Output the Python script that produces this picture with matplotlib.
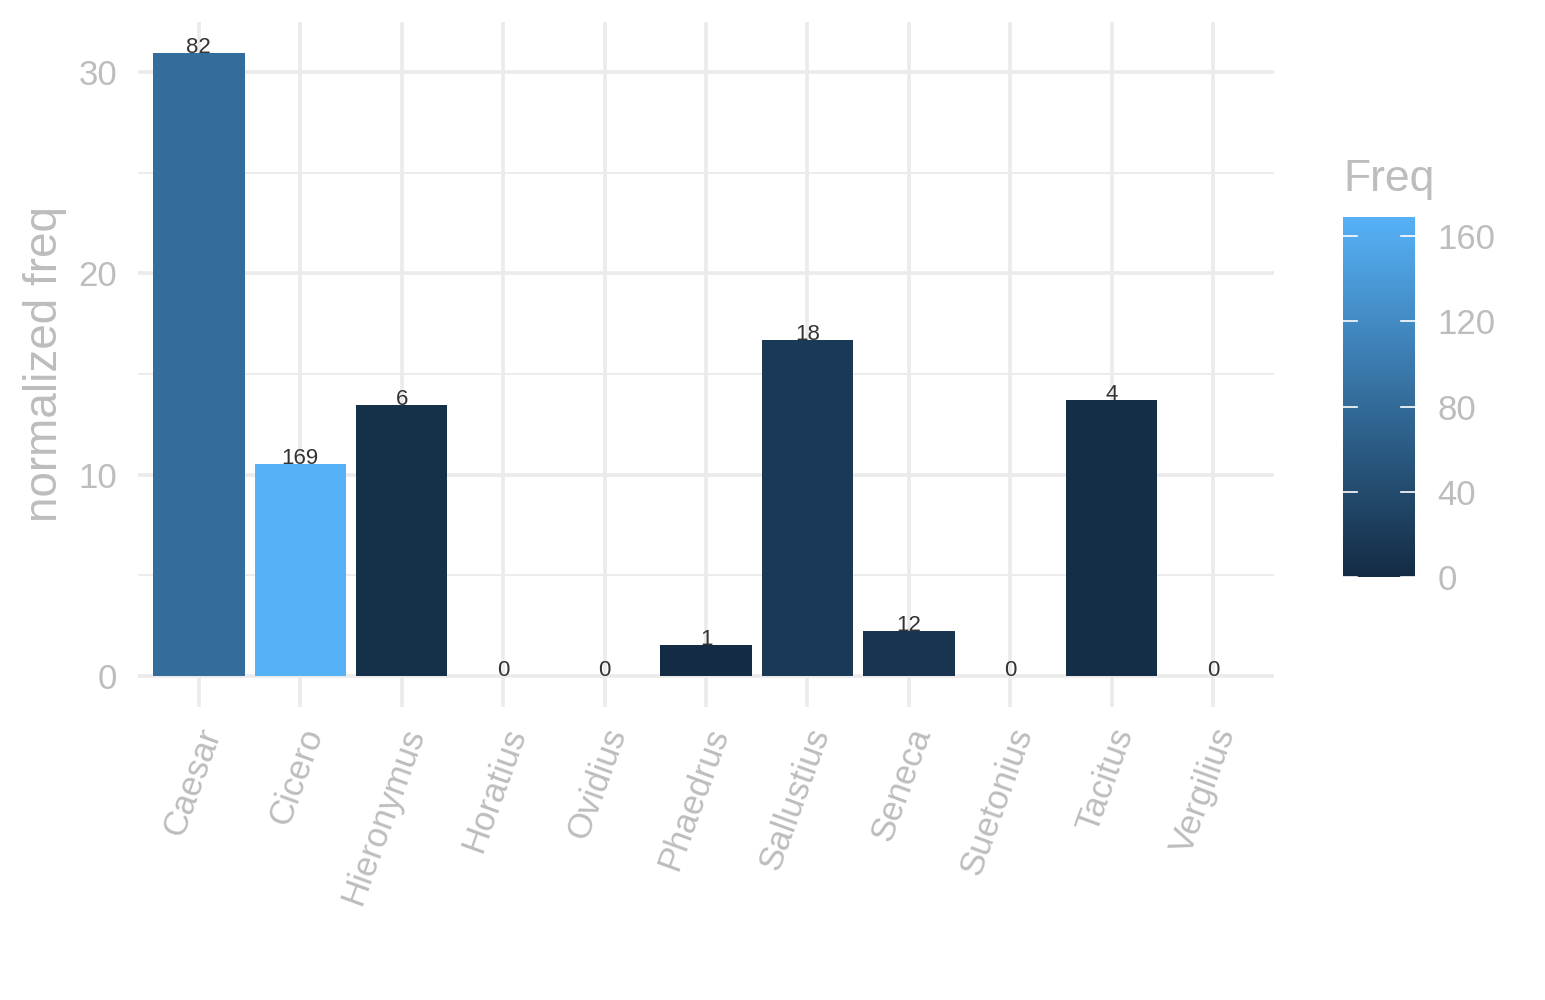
import matplotlib
matplotlib.use("Agg")
import matplotlib.pyplot as plt
from matplotlib.colors import LinearSegmentedColormap, Normalize
from matplotlib.ticker import MultipleLocator
from matplotlib.transforms import ScaledTranslation
import numpy as np

authors = ["Caesar", "Cicero", "Hieronymus", "Horatius", "Ovidius", "Phaedrus",
           "Sallustius", "Seneca", "Suetonius", "Tacitus", "Vergilius"]
norm_freq = [30.95, 10.55, 13.45, 0, 0, 1.52, 16.7, 2.22, 0, 13.7, 0]
freq = [82, 169, 6, 0, 0, 1, 18, 12, 0, 4, 0]
cbar_ticks = [0, 40, 80, 120, 160]
y_ticks = [0, 10, 20, 30]

plt.rcParams['font.family'] = ['Liberation Sans', 'DejaVu Sans']
grey_txt = '#bdbdbd'
grid_col = '#ebebeb'

cmap = LinearSegmentedColormap.from_list('gg', ['#132B43', '#56B1F7'])
cnorm = Normalize(vmin=min(freq), vmax=max(freq))

fig = plt.figure(figsize=(15.45, 10), dpi=100)
ax = fig.add_axes([138/1545, 293/1000, 1136/1545, 685/1000])

x = np.arange(len(authors))
ax.bar(x, norm_freq, width=0.9, color=[cmap(cnorm(f)) for f in freq], zorder=3)
for xi, v, f in zip(x, norm_freq, freq):
    ax.text(xi, v, str(f), ha='center', va='baseline', fontsize=16,
            color='#333333', zorder=4)

ax.set_xlim(-0.6, len(authors) - 0.4)
ymax = max(norm_freq)
ax.set_ylim(-0.05 * ymax, 1.05 * ymax)
ax.set_yticks(y_ticks)
ax.yaxis.set_minor_locator(MultipleLocator(5))
ax.set_xticks(x)
ax.set_xticklabels([''] * len(authors))
lbl_tr = ax.get_xaxis_transform() + ScaledTranslation(13/100, -22/100, fig.dpi_scale_trans)
for xi, name in zip(x, authors):
    ax.text(xi, 0, name, transform=lbl_tr, rotation=70, ha='right', va='center',
            rotation_mode='anchor', fontsize=25, color=grey_txt, clip_on=False)
ax.tick_params(axis='both', which='both', length=0, labelsize=25,
               labelcolor=grey_txt)
ax.tick_params(axis='y', pad=15)
ax.grid(True, which='major', color=grid_col, linewidth=2.6, zorder=0)
ax.grid(True, which='minor', axis='y', color=grid_col, linewidth=1.3, zorder=0)
for s in ax.spines.values():
    s.set_visible(False)
ax.set_axisbelow(True)
ax.set_ylabel('normalized freq', fontsize=33, color=grey_txt, va='center')
ax.yaxis.set_label_coords((45 - 138) / 1136, 0.5)

cax = fig.add_axes([1343/1545, 423/1000, 72/1545, 360/1000])
sm = plt.cm.ScalarMappable(norm=cnorm, cmap=cmap)
cb = fig.colorbar(sm, cax=cax, ticks=cbar_ticks)
cb.outline.set_visible(False)
cax.tick_params(axis='y', length=0, labelsize=25, labelcolor=grey_txt, pad=16)
for t in cbar_ticks:
    cax.plot([0, 0.2], [t, t], color='white', lw=1.2, transform=cax.get_yaxis_transform())
    cax.plot([0.8, 1.0], [t, t], color='white', lw=1.2, transform=cax.get_yaxis_transform())
fig.text(1343/1545, 1 - 191/1000, 'Freq', fontsize=32, color=grey_txt,
         ha='left', va='baseline')

fig.savefig('out.png', dpi=100, facecolor='white')
